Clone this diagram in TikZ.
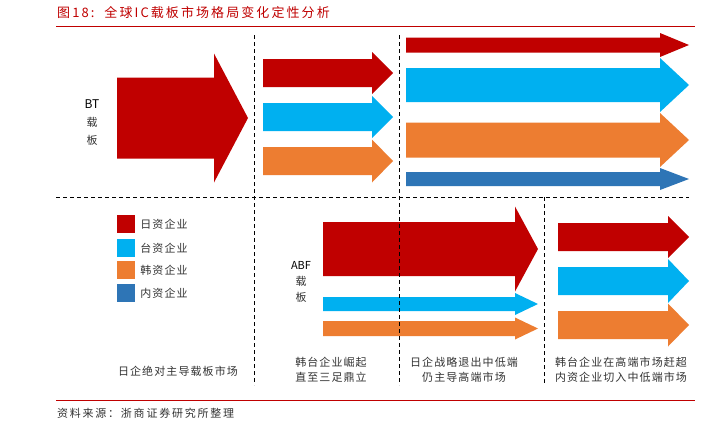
\documentclass[tikz,border=0pt]{standalone}
\usepackage{fontspec}
\setmainfont{Noto Sans CJK SC}
\newfontfamily\spacedcjk[LetterSpace=10]{Noto Sans CJK SC}
\newfontfamily\widecjk[LetterSpace=16]{Noto Sans CJK SC}
\usetikzlibrary{positioning}
\definecolor{JpRed}{HTML}{C00000}
\definecolor{TwBlue}{HTML}{00B0F0}
\definecolor{KrOrange}{HTML}{ED7D31}
\definecolor{CnBlue}{HTML}{2E75B6}
\definecolor{InkGray}{HTML}{333333}
% colour, start x, tip x, centre y, body half height, head half height, head length
\newcommand{\shapearrow}[7]{\fill[#1] (#2,#4-#5)--(#3-#7,#4-#5)--(#3-#7,#4-#6)--(#3,#4)--(#3-#7,#4+#6)--(#3-#7,#4+#5)--(#2,#4+#5)--cycle;}
\tikzset{
  stage/.style={dashed,line width=.9pt,dash pattern=on 4pt off 3pt},
  legbox/.style={minimum size=18pt,inner sep=0pt},
  legtxt/.style={font=\spacedcjk\fontsize{11}{12}\selectfont,text=InkGray,inner sep=1pt},
  phase/.style={font=\spacedcjk\fontsize{11}{15}\selectfont,text=InkGray,align=center},
  vlabel/.style={font=\fontsize{11}{18}\selectfont,text=InkGray,align=center}
}
\begin{document}
\begin{tikzpicture}[x=1pt,y=-1pt]
\useasboundingbox[fill=white] (0,0) rectangle (712,421);
\node[anchor=west,text=JpRed,font=\widecjk\fontsize{13}{14}\selectfont,inner sep=0pt] (title) at (57,13) {图18:\ \ 全球IC载板市场格局变化定性分析};
\draw[JpRed,line width=.8pt] (56,26)--(695,26);
% BT
\shapearrow{JpRed}{117}{248}{118}{40.5}{64.5}{34}
\node[vlabel] (bt) at (92,123) {{\color{black}\fontsize{12}{18}\selectfont BT}\\载\\板};
\shapearrow{JpRed}{263}{393}{73}{14}{21}{21}
\shapearrow{TwBlue}{263}{393}{117}{14}{21}{21}
\shapearrow{KrOrange}{263}{393}{161}{14}{21.5}{21}
\shapearrow{JpRed}{406}{689}{45}{7.5}{12}{29}
\shapearrow{TwBlue}{406}{689}{85}{17}{27}{29}
\shapearrow{KrOrange}{406}{689}{140}{17.5}{27}{29}
\shapearrow{CnBlue}{406}{689}{179}{7}{11}{29}
% ABF
\shapearrow{JpRed}{323}{538}{249}{27}{42.5}{23}
\shapearrow{TwBlue}{323}{538}{304}{7}{11}{23}
\shapearrow{KrOrange}{323}{538}{328.5}{7.5}{11}{23}
\shapearrow{JpRed}{558}{689}{237}{14}{21}{21}
\shapearrow{TwBlue}{558}{689}{281}{14}{22}{21}
\shapearrow{KrOrange}{558}{689}{325}{14}{21.5}{21}
\node[vlabel,font=\fontsize{11}{16}\selectfont] (abf) at (301,282) {{\color{black}\fontsize{11}{16}\selectfont ABF}\\载\\板};
% legend
\node[legbox,fill=JpRed] (lgJp) at (126,224) {};
\node[legbox,fill=TwBlue] (lgTw) at (126,248) {};
\node[legbox,fill=KrOrange] (lgKr) at (126,270) {};
\node[legbox,fill=CnBlue] (lgCn) at (126,293) {};
\node[legtxt,right=4pt of lgJp] (lgJpTxt) {日资企业};
\node[legtxt,right=4pt of lgTw] (lgTwTxt) {台资企业};
\node[legtxt,right=4pt of lgKr] (lgKrTxt) {韩资企业};
\node[legtxt,right=4pt of lgCn] (lgCnTxt) {内资企业};
% stages
\draw[stage] (56,197)--(689,197);
\draw[stage] (254,35)--(254,385);
\draw[stage] (399,35)--(399,385);
\draw[stage] (544,197)--(544,385);
\node[phase] (ph1) at (178,371) {日企绝对主导载板市场};
\node[phase] (ph2) at (331,370) {韩台企业崛起\\直至三足鼎立};
\node[phase] (ph3) at (464,370) {日企战略退出中低端\\仍主导高端市场};
\node[phase] (ph4) at (621,370) {韩台企业在高端市场赶超\\内资企业切入中低端市场};
\draw[JpRed,line width=.8pt] (56,400)--(695,400);
\node[anchor=west,legtxt,font=\widecjk\fontsize{11}{12}\selectfont,inner sep=0pt] (src) at (57,413) {资料来源：浙商证券研究所整理};
\end{tikzpicture}
\end{document}
